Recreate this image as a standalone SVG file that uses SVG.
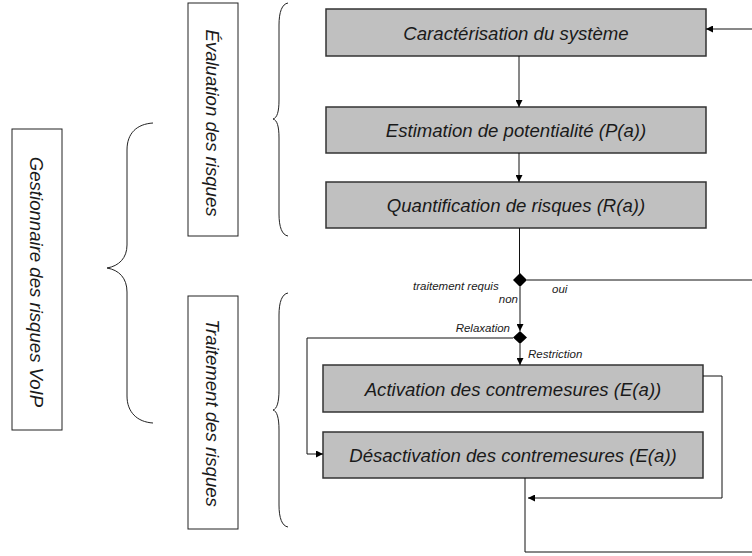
<svg xmlns="http://www.w3.org/2000/svg" width="752" height="556" viewBox="0 0 752 556">
<style>
.box{fill:#c0c0c0;stroke:#333;stroke-width:1.5}
.lbl{fill:#fff;stroke:#222;stroke-width:1}
.t{font-family:"Liberation Sans",Arial,sans-serif;font-style:italic;font-size:18.6px;fill:#1a1a1a;text-anchor:middle}
.s{font-family:"Liberation Sans",Arial,sans-serif;font-style:italic;font-size:11.5px;fill:#1a1a1a}
.c{fill:none;stroke:#111;stroke-width:1}
.br{fill:none;stroke:#222;stroke-width:1}
</style>
<defs>
<marker id="ah" viewBox="0 0 10 10" refX="10" refY="5" markerWidth="7" markerHeight="7" markerUnits="userSpaceOnUse" orient="auto">
<path d="M0,0 L10,5 L0,10 z" fill="#000"/>
</marker>
</defs>
<rect width="752" height="556" fill="#fff"/>

<g id="gestionnaire">
<rect class="lbl" x="12" y="129" width="50" height="301"/>
<text class="t" transform="translate(37,282) rotate(90)" x="0" y="6.6">Gestionnaire des risques VoIP</text>
</g>
<g id="brace-gestionnaire">
<path class="br" d="M153,123 C137,124 127,133 127,150 L127,245 C127,258 119,266 107,268 C119,270 127,278 127,292 L127,396 C127,412 137,422 153,423"/>
</g>
<g id="evaluation">
<rect class="lbl" x="188" y="3" width="50" height="233"/>
<text class="t" transform="translate(213,123) rotate(90)" x="0" y="6.6">Évaluation des risques</text>
</g>
<g id="brace-evaluation">
<path class="br" d="M288,3 C282,4 279,12 279,25 L279,100 C279,112 277,118 273,119 C277,120 279,126 279,138 L279,214 C279,227 282,235 288,236"/>
</g>
<g id="traitement">
<rect class="lbl" x="188" y="296" width="50" height="233"/>
<text class="t" transform="translate(213,413) rotate(90)" x="0" y="6.6">Traitement des risques</text>
</g>
<g id="brace-traitement">
<path class="br" d="M288,293 C282,294 279,302 279,315 L279,390 C279,402 277,409 273,410 C277,411 279,418 279,430 L279,505 C279,518 282,526 288,527"/>
</g>

<g id="caracterisation">
<rect class="box" x="326" y="9" width="380" height="47"/>
<text class="t" x="516" y="39.5">Caractérisation du système</text>
</g>
<g id="estimation">
<rect class="box" x="326" y="107" width="380" height="46"/>
<text class="t" x="516" y="137">Estimation de potentialité (P(a))</text>
</g>
<g id="quantification">
<rect class="box" x="326" y="182" width="380" height="46"/>
<text class="t" x="516" y="211.5">Quantification de risques (R(a))</text>
</g>
<g id="activation">
<rect class="box" x="323" y="365" width="380" height="47"/>
<text class="t" x="513" y="396">Activation des contremesures (E(a))</text>
</g>
<g id="desactivation">
<rect class="box" x="323" y="432" width="380" height="46"/>
<text class="t" x="513" y="461.5">Désactivation des contremesures (E(a))</text>
</g>
<g id="decision1">
<path d="M520,273 L527,280 L520,287 L513,280 z" fill="#000"/>
</g>
<g id="decision2">
<path d="M520,331 L527,337.5 L520,344 L513,337.5 z" fill="#000"/>
</g>

<g id="connectors">
<path class="c" d="M752,29 L706,29" marker-end="url(#ah)"/>
<path class="c" d="M519,56 L519,107" marker-end="url(#ah)"/>
<path class="c" d="M519,153 L519,182" marker-end="url(#ah)"/>
<path class="c" d="M519.5,228 L519.5,274"/>
<path class="c" d="M527,280 L752,280"/>
<path class="c" d="M520,287 L520,331" marker-end="url(#ah)"/>
<path class="c" d="M513,338 L307,338 L307,454 L323,454" marker-end="url(#ah)"/>
<path class="c" d="M520,344 L520,365" marker-end="url(#ah)"/>
<path class="c" d="M703,376 L722,376 L722,498 L528,498" marker-end="url(#ah)"/>
<path class="c" d="M525,478 L525,552 L752,552"/>
<text class="s" x="413" y="290">traitement requis</text>
<text class="s" x="552" y="293">oui</text>
<text class="s" x="518" y="303" text-anchor="end">non</text>
<text class="s" x="510" y="332" text-anchor="end">Relaxation</text>
<text class="s" x="528" y="358">Restriction</text>
</g>
</svg>
